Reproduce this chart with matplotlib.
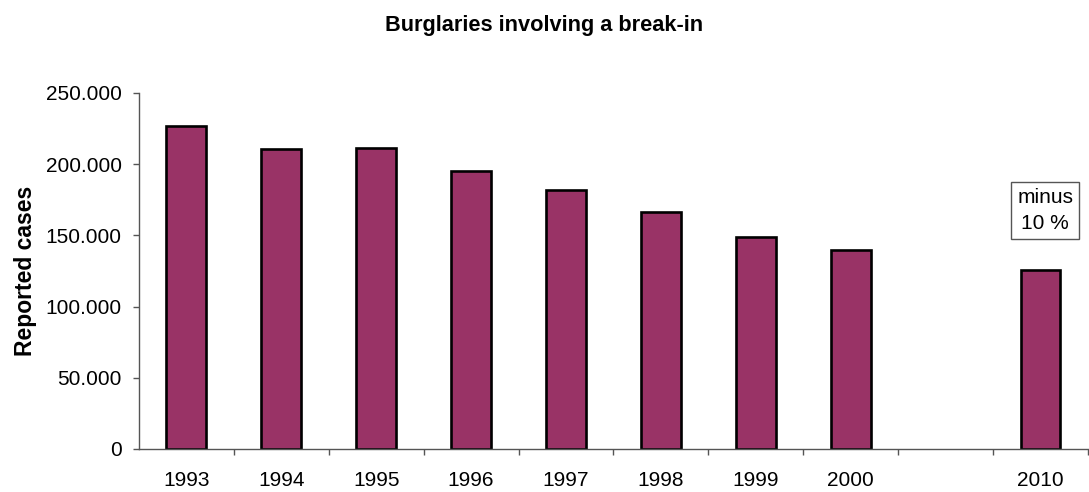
import matplotlib.pyplot as plt
import numpy as np
from matplotlib.ticker import FuncFormatter

plt.rcParams['font.family'] = ['Liberation Sans', 'DejaVu Sans']

years = ['1993', '1994', '1995', '1996', '1997', '1998', '1999', '2000', '', '2010']
cases = [227000, 211000, 211500, 195500, 182000, 166500, 149000, 140000, np.nan, 126000]
note = 'minus\n10 %'

fig = plt.figure(figsize=(10.89, 4.92), dpi=100)
ax = fig.add_axes([0.1276, 0.0874, 0.8714, 0.7236])

x = np.arange(len(years))
ax.bar(x, cases, width=0.42, color='#993366', edgecolor='black', linewidth=1.9)

ax.set_xlim(-0.5, len(years) - 0.5)
ax.set_ylim(0, 250000)
ax.set_yticks(np.arange(0, 250001, 50000))
ax.yaxis.set_major_formatter(FuncFormatter(lambda v, p: f'{int(v):,}'.replace(',', '.')))
ax.set_xticks(x)
ax.set_xticklabels(years)
ax.set_xticks(np.arange(0.5, len(years) - 0.4, 1), minor=True)
ax.tick_params(axis='x', which='major', length=0, pad=16, labelsize=15)
ax.tick_params(axis='x', which='minor', length=4.5, width=1, color='#555555', direction='out')
ax.tick_params(axis='y', length=4.5, width=1, color='#555555', labelsize=15, pad=8)

for side in ['top', 'right']:
    ax.spines[side].set_visible(False)
for side in ['left', 'bottom']:
    ax.spines[side].set_color('#555555')
    ax.spines[side].set_linewidth(1)

ax.set_ylabel('Reported cases', fontsize=16.5, fontweight='bold', labelpad=6)
fig.text(0.5, 0.949, 'Burglaries involving a break-in', fontsize=15.7, fontweight='bold',
         ha='center', va='center')

ax.text(x[-1] + 0.05, 167500, note, ha='center', va='center', fontsize=15, linespacing=1.5,
        bbox=dict(boxstyle='square,pad=0.28', facecolor='white', edgecolor='#555555', linewidth=1))

fig.savefig('out.png', dpi=100)
